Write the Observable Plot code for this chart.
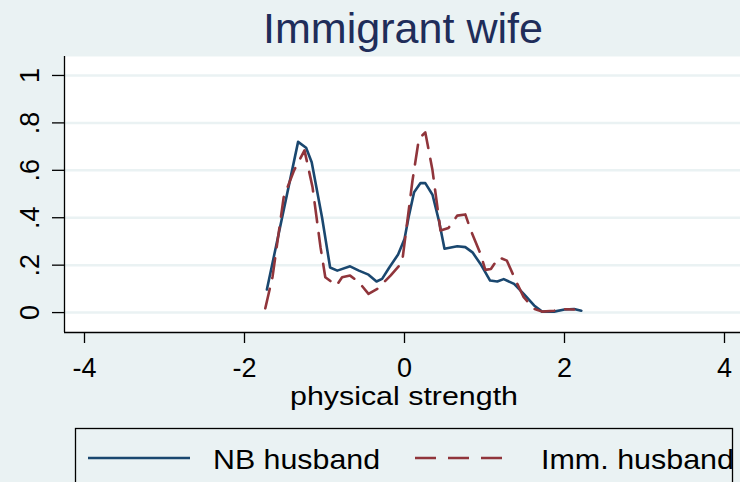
<!DOCTYPE html>
<html><head><meta charset="utf-8">
<script src="https://cdn.jsdelivr.net/npm/d3@7"></script>
<script src="https://cdn.jsdelivr.net/npm/@observablehq/plot@0.6"></script>
<style>
html,body{margin:0;padding:0;background:#eaf2f3;}
svg{display:block}
</style></head><body><div id="chart"></div>
<script>
// ---- data ----
const nbX = [-1.72,-1.33,-1.23,-1.16,-1.03,-0.93,-0.84,-0.68,-0.57,-0.45,-0.35,-0.28,-0.19,-0.08,0.0,0.05,0.12,0.2,0.26,0.35,0.43,0.5,0.66,0.76,0.85,0.95,1.07,1.16,1.24,1.37,1.49,1.62,1.72,1.87,2.0,2.12,2.21];
const nbY = [0.097,0.72,0.695,0.634,0.40,0.19,0.177,0.195,0.177,0.16,0.131,0.142,0.19,0.245,0.31,0.40,0.508,0.546,0.546,0.497,0.388,0.269,0.28,0.276,0.254,0.205,0.135,0.131,0.141,0.121,0.079,0.03,0.004,0.004,0.013,0.015,0.008];
const immX = [-1.74,-1.65,-1.51,-1.38,-1.25,-1.15,-1.05,-0.99,-0.85,-0.78,-0.68,-0.57,-0.45,-0.34,-0.175,-0.03,0.01,0.1,0.18,0.26,0.35,0.45,0.55,0.66,0.76,0.83,0.95,1.01,1.08,1.18,1.28,1.39,1.49,1.62,1.72,1.87,2.0,2.12];
const immY = [0.018,0.15,0.487,0.6,0.684,0.53,0.276,0.149,0.114,0.149,0.156,0.128,0.079,0.1,0.156,0.212,0.318,0.557,0.733,0.76,0.6,0.346,0.357,0.409,0.414,0.346,0.248,0.18,0.184,0.233,0.219,0.135,0.065,0.016,0.004,0.008,0.014,0.013];
const xTicks = [-4,-2,0,2,4];
const yTicks = [0,0.2,0.4,0.6,0.8,1];
const yTickLabels = ["0",".2",".4",".6",".8","1"];
const seriesNames = ["NB husband","Imm. husband"];
const titleText = "Immigrant wife";
const xLabel = "physical strength";

const colors = ["#1a476f","#90353b"];
const bg = "#eaf2f3";
const xDomain = [-4.25, 4.2];
const yDomain = [-0.084, 1.08];

const nb = nbX.map((x,i)=>({x, y: nbY[i]}));
const imm = immX.map((x,i)=>({x, y: immY[i]}));
const font = "'Liberation Sans', Arial, sans-serif";

const plot = Plot.plot({
  width: 740, height: 482,
  marginLeft: 64, marginTop: 56, marginRight: 0, marginBottom: 150,
  style: {background: bg, fontFamily: font, color: "black"},
  x: {domain: xDomain},
  y: {domain: yDomain},
  marks: [
    Plot.frame({fill: "white", stroke: "none"}),
    Plot.gridY(yTicks, {stroke: bg, strokeOpacity: 1, strokeWidth: 2.5}),
    Plot.ruleX([xDomain[0]], {stroke: "black", strokeWidth: 1.3}),
    Plot.ruleY([yDomain[0]], {stroke: "black", strokeWidth: 1.3}),
    Plot.axisX(xTicks, {tickSize: 11, tickPadding: 14, fontSize: 27, strokeWidth: 1.3, label: null, tickFormat: d => String(d)}),
    Plot.axisY(yTicks, {tickSize: 12, strokeWidth: 1.3, label: null, tickFormat: () => ""}),
    Plot.text(yTicks, {y: d => d, text: (d,i) => yTickLabels[i], frameAnchor: "left", dx: -34, rotate: -90, fontSize: 27, textAnchor: "middle", lineAnchor: "middle", fill: "black"}),
    Plot.line(nb, {x: "x", y: "y", stroke: colors[0], strokeWidth: 2.6}),
    Plot.line(imm, {x: "x", y: "y", stroke: colors[1], strokeWidth: 2.6, strokeDasharray: "20,11"})
  ]
});
document.getElementById("chart").appendChild(plot);

const svg = d3.select(plot);
function addText(g, x, y, size, txt, len, anchor, fill) {
  return g.append("text").attr("x", x).attr("y", y).attr("text-anchor", anchor)
    .attr("font-size", size).attr("fill", fill).attr("font-family", font)
    .attr("textLength", len).attr("lengthAdjust", "spacingAndGlyphs").text(txt);
}
addText(svg, 403, 43, 42, titleText, 280, "middle", "#1f2d5a");
addText(svg, 404, 405, 26, xLabel, 228, "middle", "black");

const lg = svg.append("g");
lg.append("rect").attr("x", 75.5).attr("y", 428.5).attr("width", 657).attr("height", 80)
  .attr("fill", "none").attr("stroke", "black").attr("stroke-width", 1.3);
lg.append("line").attr("x1", 88).attr("x2", 190).attr("y1", 458).attr("y2", 458)
  .attr("stroke", colors[0]).attr("stroke-width", 2.6);
lg.append("line").attr("x1", 415).attr("x2", 502).attr("y1", 458).attr("y2", 458)
  .attr("stroke", colors[1]).attr("stroke-width", 2.6).attr("stroke-dasharray", "21,12");
addText(lg, 213, 469, 28, seriesNames[0], 167, "start", "black");
addText(lg, 541, 469, 28, seriesNames[1], 193, "start", "black");
</script></body></html>
